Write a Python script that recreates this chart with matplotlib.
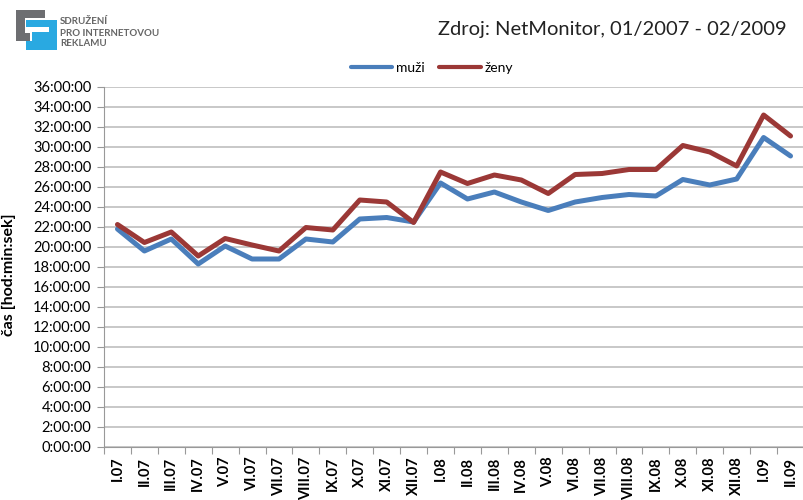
import matplotlib
matplotlib.use("Agg")
import matplotlib.pyplot as plt
from matplotlib.patches import Rectangle
from matplotlib.ticker import FuncFormatter, MultipleLocator

plt.rcParams['font.family'] = ['Lato', 'DejaVu Sans']

# monthly labels 01/2007 - 02/2009
months = ["I.07", "II.07", "III.07", "IV.07", "V.07", "VI.07", "VII.07", "VIII.07",
          "IX.07", "X.07", "XI.07", "XII.07", "I.08", "II.08", "III.08", "IV.08",
          "V.08", "VI.08", "VII.08", "VIII.08", "IX.08", "X.08", "XI.08", "XII.08",
          "I.09", "II.09"]

# time in hours
muzi = [21.8, 19.6, 20.8, 18.3, 20.1, 18.8, 18.8, 20.8, 20.5, 22.8, 22.95, 22.5,
        26.4, 24.8, 25.5, 24.5, 23.65, 24.5, 24.95, 25.25, 25.1, 26.75, 26.2, 26.8,
        30.95, 29.1]
zeny = [22.25, 20.45, 21.5, 19.1, 20.85, 20.2, 19.6, 21.95, 21.7, 24.7, 24.5, 22.45,
        27.5, 26.35, 27.2, 26.7, 25.35, 27.25, 27.35, 27.75, 27.75, 30.15, 29.5, 28.1,
        33.2, 31.1]

W, H = 804, 500
fig = plt.figure(figsize=(W / 100, H / 100), dpi=100)
ax = fig.add_axes([104 / W, 53 / H, 700 / W, 360 / H])

x = list(range(len(months)))
ax.plot(x, muzi, color="#4a7ebb", lw=3.6, solid_capstyle="round", label="muži", zorder=3)
ax.plot(x, zeny, color="#9b3836", lw=3.6, solid_capstyle="round", label="ženy", zorder=3)

ax.set_xlim(-0.5, len(months) - 0.5)
ax.set_ylim(0, 36)

def hms(v, pos):
    return "%d:00:00" % int(round(v))

ax.yaxis.set_major_locator(MultipleLocator(2))
ax.yaxis.set_major_formatter(FuncFormatter(hms))
ax.grid(axis="y", color="#c4c4c4", lw=1.3)
ax.set_axisbelow(True)

# ticks between months, labels centred on months
ax.set_xticks([i - 0.5 for i in range(len(months) + 1)])
ax.set_xticklabels([])
ax.set_xticks(x, minor=True)
ax.set_xticklabels(months, minor=True, rotation=90, fontsize=10.5, fontweight="bold",
                   va="top", ha="center")
ax.tick_params(axis="x", which="minor", length=0, pad=7)
ax.tick_params(axis="x", which="major", length=5, color="#999999")
ax.tick_params(axis="y", length=5, color="#999999", labelsize=10.5, pad=4)

for s in ["top", "right"]:
    ax.spines[s].set_visible(False)
for s in ["left", "bottom"]:
    ax.spines[s].set_color("#999999")

ax.set_ylabel("čas [hod:min:sek]", fontsize=11.5, fontweight="bold")
ax.yaxis.set_label_coords(-88 / 700, 0.48)

ax.legend(loc="center", bbox_to_anchor=(432 / W, 1 - 68 / H), bbox_transform=fig.transFigure,
          ncol=2, frameon=False, fontsize=10, handlelength=3.0, handletextpad=0.3,
          columnspacing=1.0)
for ln in ax.get_legend().get_lines():
    ln.set_linewidth(3)

fig.text(787 / W, 1 - 30 / H, "Zdroj: NetMonitor, 01/2007 - 02/2009", fontsize=14.5,
         ha="right", va="center", color="#222222")

# logo
def fig_rect(x0, y0, w, h, c):
    fig.patches.append(Rectangle((x0 / W, 1 - (y0 + h) / H), w / W, h / H,
                                 transform=fig.transFigure, color=c, lw=0))

gray = "#6d6e71"
blue = "#29a9e1"
fig_rect(16, 10, 29, 8, gray)
fig_rect(16, 10, 9, 31, gray)
fig_rect(26, 20, 31, 30, blue)
fig_rect(26, 27, 23, 5, "white")
fig_rect(26, 32, 6, 9, "white")
fig_rect(16, 33, 14, 8, gray)
for i, t in enumerate(["SDRUŽENÍ", "PRO INTERNETOVOU", "REKLAMU"]):
    fig.text(60 / W, 1 - (22 + 11 * i) / H, t, fontsize=7, fontweight="bold",
             color="#666666", va="center", ha="left")

fig.savefig("out.png", dpi=100)
